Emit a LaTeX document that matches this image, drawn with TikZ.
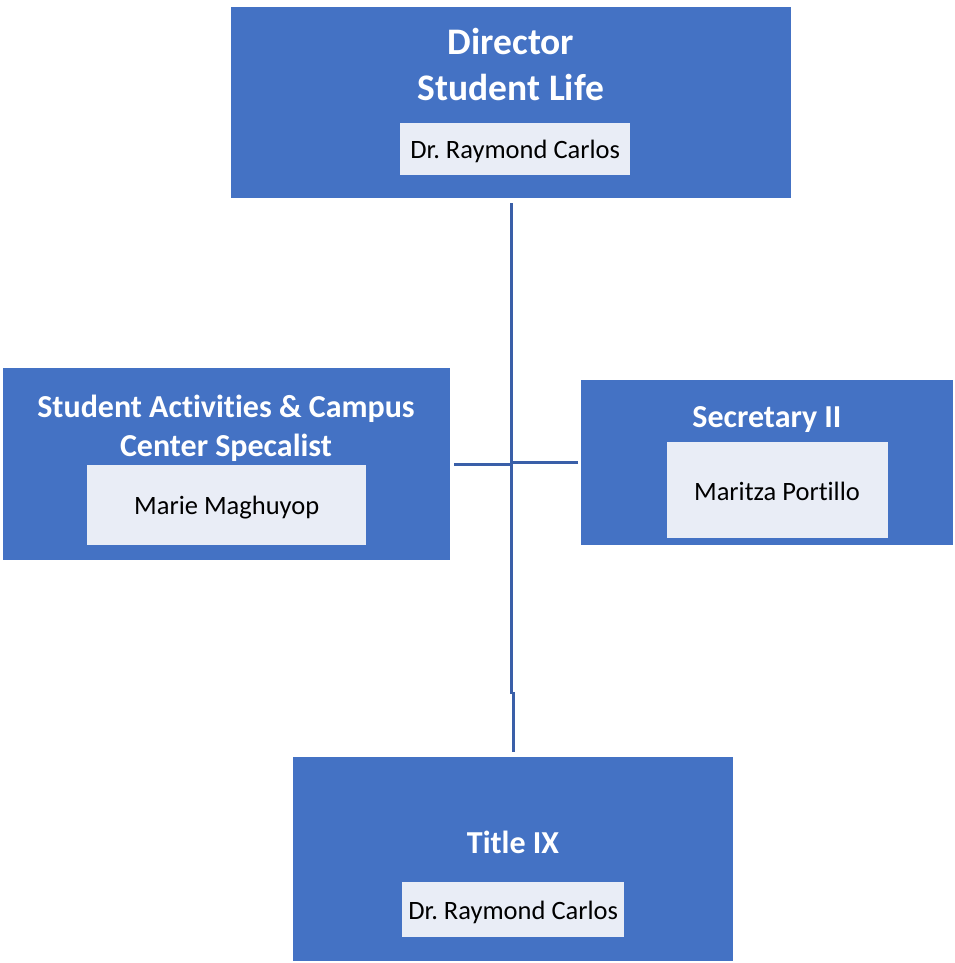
\documentclass[tikz,border=0pt]{standalone}
\usepackage{fontspec}
\setmainfont{Carlito}[Ligatures=NoCommon]
\frenchspacing
\definecolor{boxblue}{HTML}{4472C4}
\definecolor{namefill}{HTML}{E9EDF6}
\definecolor{linecol}{HTML}{3A5FA8}
\begin{document}
\begin{tikzpicture}[x=1pt,y=-1pt,
  outer/.style={fill=boxblue, draw=none, inner sep=0pt, anchor=north west},
  namebox/.style={fill=namefill, draw=none, inner sep=0pt, anchor=north west},
  nametxt/.style={font=\fontsize{26.5}{30}\selectfont, inner sep=0pt},
  ttl/.style={text=white, font=\fontsize{32}{39}\selectfont\bfseries, align=center, inner sep=0pt},
  bigttl/.style={ttl, font=\fontsize{37.5}{44}\selectfont\bfseries},
  conn/.style={draw=linecol, line width=2.8pt}]
\useasboundingbox (0,0) rectangle (954,963);
% Director
\node[outer, minimum width=560pt, minimum height=191pt] (dir) at (231,7) {};
\node[bigttl] (dirt1) at (511,41) {Director};
\node[bigttl] (dirt2) at (511,87) {Student Life};
\node[namebox, minimum width=230pt, minimum height=52pt] (dirn) at (400,123) {};
\node[nametxt] (dirnt) at ([yshift=-2pt]dirn.center) {Dr. Raymond Carlos};
% Student activities
\node[outer, minimum width=447pt, minimum height=192pt] (sa) at (3,368) {};
\node[ttl] (sat) at (226,428) {Student Activities \& Campus\\Center Specalist};
\node[namebox, minimum width=279pt, minimum height=80pt] (san) at (87,465) {};
\node[nametxt] (sant) at ([yshift=-2pt]san.center) {Marie Maghuyop};
% Secretary
\node[outer, minimum width=372pt, minimum height=165pt] (sec) at (581,380) {};
\node[ttl] (sect) at (767,420) {Secretary II};
\node[namebox, minimum width=221pt, minimum height=96pt] (secn) at (667,442) {};
\node[nametxt] (secnt) at (777,491) {Maritza Portillo};
% Title IX
\node[outer, minimum width=440pt, minimum height=204pt] (t9) at (293,757) {};
\node[ttl] (t9t) at (513,842) {Title IX};
\node[namebox, minimum width=222pt, minimum height=55pt] (t9n) at (402,882) {};
\node[nametxt] (t9nt) at ([yshift=-2.5pt]t9n.center) {Dr. Raymond Carlos};
% connectors
\coordinate (jog) at (511,693);
\coordinate (jl) at (511,464);
\coordinate (jr) at (512,462);
\draw[conn, shorten <=5pt, shorten >=5pt] (dir.south) -- (dir.south |- jog) -- (jog -| t9.north) -- (t9.north);
\draw[conn, shorten <=4pt] (sa.east) -- (sa.east -| jl);
\draw[conn, shorten <=3pt] (sec.west) -- (sec.west -| jr);
\end{tikzpicture}
\end{document}
